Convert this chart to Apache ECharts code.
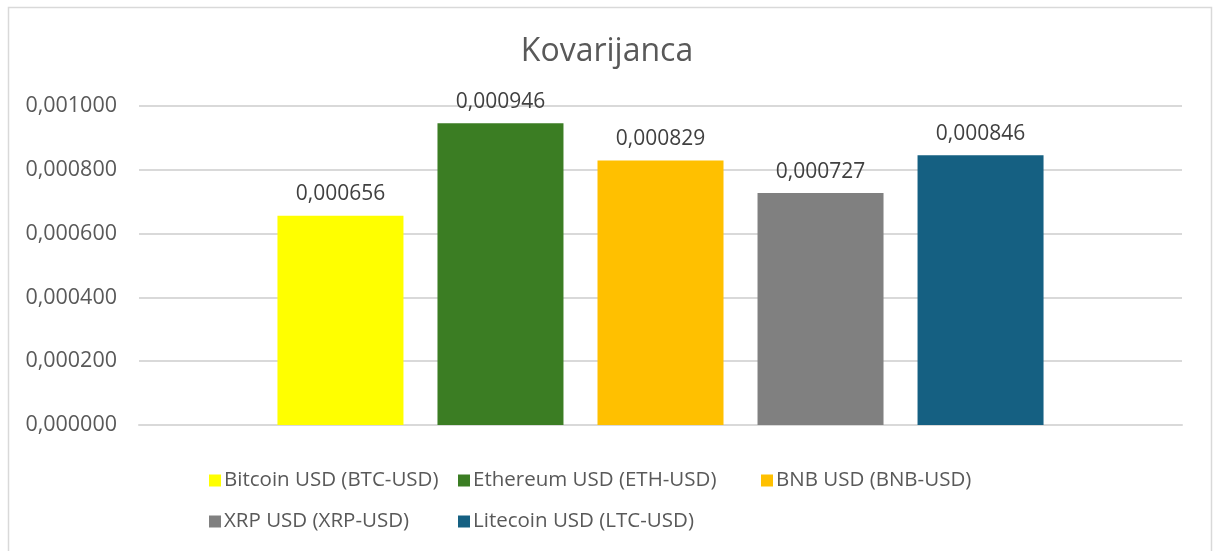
<!DOCTYPE html>
<html>
<head>
<meta charset="utf-8">
<script src="https://cdn.jsdelivr.net/npm/echarts@6/dist/echarts.min.js"></script>
<style>
  html, body { margin: 0; padding: 0; background: #fff; }
  #chart { width: 1214px; height: 551px; }
</style>
</head>
<body>
<div id="chart"></div>
<script>
// series names and values (one bar each)
var names = ['Bitcoin USD (BTC-USD)', 'Ethereum USD (ETH-USD)', 'BNB USD (BNB-USD)', 'XRP USD (XRP-USD)', 'Litecoin USD (LTC-USD)'];
var values = [0.000656, 0.000946, 0.000829, 0.000727, 0.000846];
var yTicks = [0, 0.0002, 0.0004, 0.0006, 0.0008, 0.001];

var colors = ['#FFFF00', '#3B7D23', '#FFC000', '#808080', '#156082'];
var font = 'Open Sans';

function fmt(v) {
    return Number(v).toFixed(6).replace('.', ',');
}

var myChart = echarts.init(document.getElementById('chart'));

var series = names.map(function (n, i) {
    return {
        name: n,
        type: 'bar',
        data: [values[i]],
        barWidth: 126,
        barGap: '27%',
        itemStyle: { color: colors[i] },
        label: {
            show: true,
            position: 'top',
            distance: 11,
            color: '#404040',
            fontFamily: font,
            fontSize: 21,
            formatter: function (p) { return fmt(p.value); }
        }
    };
});

function legendBox(items, left) {
    return {
        data: items,
        orient: 'vertical',
        left: left,
        top: 465,
        itemWidth: 12,
        itemHeight: 12,
        itemGap: 20,
        icon: 'rect',
        textStyle: { color: '#595959', fontFamily: font, fontSize: 20.5, padding: [0, 0, 0, -2] },
        selectedMode: false
    };
}

var option = {
    animation: false,
    title: {
        text: 'Kovarijanca',
        left: 'center',
        top: 31,
        textStyle: { color: '#595959', fontFamily: font, fontSize: 32, fontWeight: 'normal' }
    },
    graphic: [{
        type: 'rect',
        shape: { x: 8.5, y: 7.5, width: 1203, height: 560 },
        style: { fill: 'none', stroke: '#d9d9d9', lineWidth: 1.5 },
        silent: true
    }],
    legend: [
        legendBox([names[0], names[3]], 204),
        legendBox([names[1], names[4]], 453),
        legendBox([names[2]], 756)
    ],
    grid: { left: 139, right: 32, top: 106, bottom: 126, containLabel: false },
    xAxis: {
        type: 'category',
        data: [''],
        axisLine: { show: true, lineStyle: { color: '#d9d9d9', width: 2 } },
        axisTick: { show: false },
        axisLabel: { show: false }
    },
    yAxis: {
        type: 'value',
        min: yTicks[0],
        max: yTicks[yTicks.length - 1],
        interval: yTicks[1],
        axisLine: { show: false },
        axisTick: { show: false },
        axisLabel: {
            color: '#595959',
            fontFamily: font,
            fontSize: 21.5,
            margin: 22,
            formatter: fmt
        },
        splitLine: { lineStyle: { color: '#d9d9d9', width: 2 } }
    },
    series: series
};
myChart.setOption(option);
</script>
</body>
</html>
